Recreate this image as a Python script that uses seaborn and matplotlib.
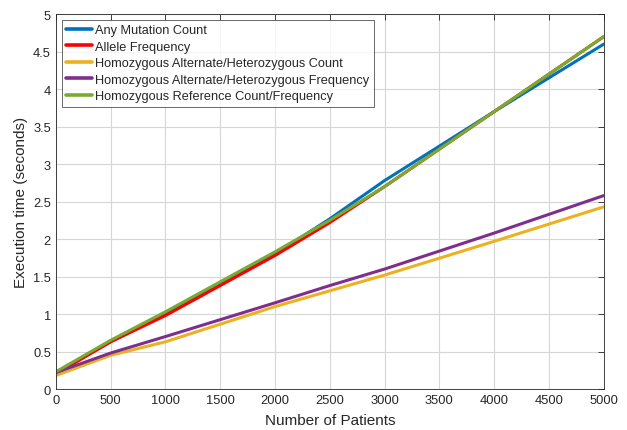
import matplotlib
matplotlib.use("Agg")
import matplotlib.pyplot as plt
import pandas as pd
import seaborn as sns

patients = [0, 500, 1000, 2000, 2500, 3000, 4000, 5000]
any_mutation = [0.22, 0.63, 1.00, 1.80, 2.27, 2.78, 3.70, 4.60]
allele_freq = [0.20, 0.63, 0.98, 1.78, 2.22, 2.70, 3.70, 4.70]
hom_alt_count = [0.18, 0.45, 0.63, 1.10, 1.31, 1.52, 1.97, 2.43]
hom_alt_freq = [0.22, 0.48, 0.70, 1.15, 1.38, 1.60, 2.08, 2.58]
hom_ref = [0.23, 0.65, 1.03, 1.83, 2.25, 2.70, 3.70, 4.70]

names = ["Any Mutation Count", "Allele Frequency",
         "Homozygous Alternate/Heterozygous Count",
         "Homozygous Alternate/Heterozygous Frequency",
         "Homozygous Reference Count/Frequency"]
series = [any_mutation, allele_freq, hom_alt_count, hom_alt_freq, hom_ref]
colors = ["#0072BD", "#FF0000", "#EDB120", "#7E2F8E", "#77AC30"]

rows = []
for name, vals in zip(names, series):
    for x, y in zip(patients, vals):
        rows.append({"patients": x, "time": y, "method": name})
df = pd.DataFrame(rows)

sns.set_style("white")
plt.rcParams["font.family"] = ["Liberation Sans", "DejaVu Sans"]

fig = plt.figure(figsize=(6.27, 4.31), dpi=100)
ax = fig.add_axes([0.089, 0.095, 0.874, 0.870])

sns.lineplot(data=df, x="patients", y="time", hue="method", hue_order=names,
             palette=colors, linewidth=2.2, ax=ax)

ax.set_xlim(0, 5000)
ax.set_ylim(0, 5)
ax.set_xticks(range(0, 5001, 500))
ax.set_yticks([i * 0.5 for i in range(11)])
ax.set_yticklabels(["0", "0.5", "1", "1.5", "2", "2.5", "3", "3.5", "4", "4.5", "5"])
ax.grid(True, color="#d6d6d6", linewidth=0.8)
ax.tick_params(direction="in", length=4, labelsize=9.3, colors="#262626",
               top=True, right=True, width=0.6)
for s in ax.spines.values():
    s.set_color("#262626")
    s.set_linewidth(0.6)
ax.set_xlabel("Number of Patients", fontsize=11, color="#262626", labelpad=5)
ax.set_ylabel("Execution time (seconds)", fontsize=11, color="#262626", labelpad=4)

leg = ax.legend(loc="upper left", fontsize=9.2, frameon=True, fancybox=False,
                borderaxespad=0.45, handlelength=2.0, labelspacing=0.35,
                borderpad=0.35, handletextpad=0.3)
leg.get_frame().set_edgecolor("#262626")
leg.get_frame().set_linewidth(0.6)
for line in leg.get_lines():
    line.set_linewidth(2.6)

fig.savefig("out.png", dpi=100)
